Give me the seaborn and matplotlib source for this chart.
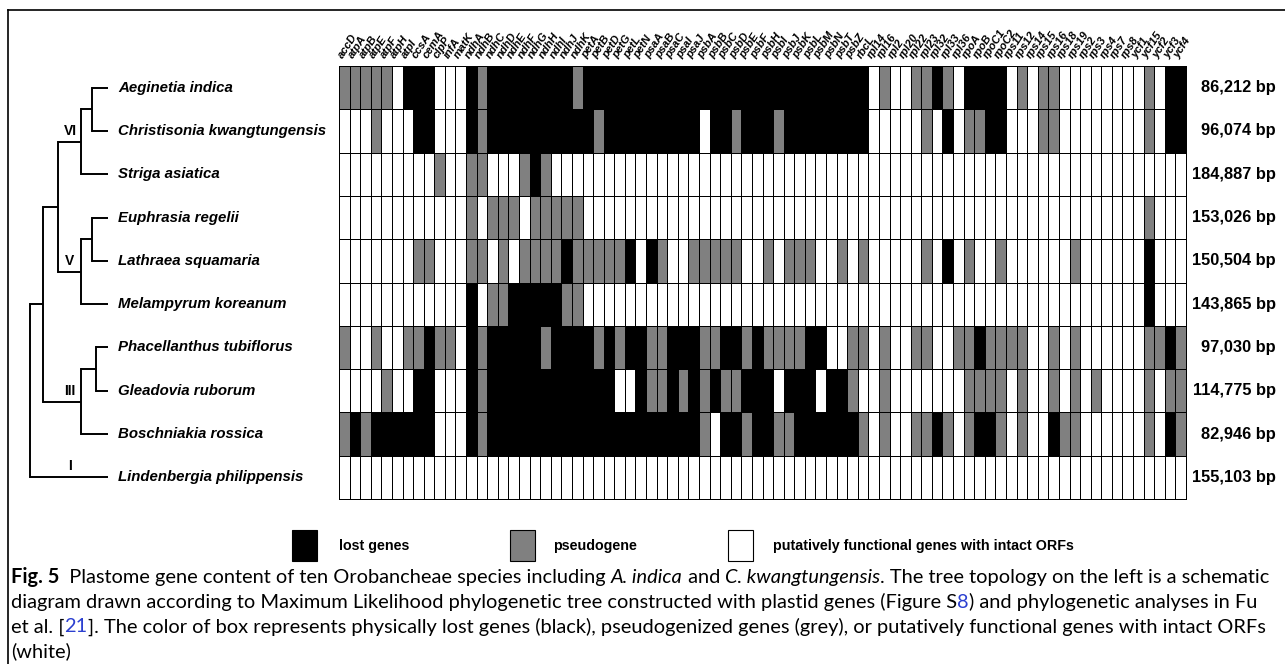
import matplotlib
matplotlib.use("Agg")
import pandas as pd
import matplotlib.pyplot as plt
import seaborn as sns
from matplotlib.colors import ListedColormap
from matplotlib.patches import Rectangle
from matplotlib.lines import Line2D

genes = ["accD", "atpA", "atpB", "atpE", "atpF", "atpH", "atpI", "ccsA", "cemA", "clpP",
         "infA", "matK", "ndhA", "ndhB", "ndhC", "ndhD", "ndhE", "ndhF", "ndhG", "ndhH",
         "ndhI", "ndhJ", "ndhK", "petA", "petB", "petD", "petG", "petL", "petN", "psaA",
         "psaB", "psaC", "psaI", "psaJ", "psbA", "psbB", "psbC", "psbD", "psbE", "psbF",
         "psbH", "psbI", "psbJ", "psbK", "psbL", "psbM", "psbN", "psbT", "psbZ", "rbcL",
         "rpl14", "rpl16", "rpl2", "rpl20", "rpl22", "rpl23", "rpl32", "rpl33", "rpl36", "rpoA",
         "rpoB", "rpoC1", "rpoC2", "rps11", "rps12", "rps14", "rps15", "rps16", "rps18", "rps19",
         "rps2", "rps3", "rps4", "rps7", "rps8", "ycf1", "ycf15", "ycf2", "ycf3", "ycf4"]

species = ["Aeginetia indica", "Christisonia kwangtungensis", "Striga asiatica",
           "Euphrasia regelii", "Lathraea squamaria", "Melampyrum koreanum",
           "Phacellanthus tubiflorus", "Gleadovia ruborum", "Boschniakia rossica",
           "Lindenbergia philippensis"]

genome_size = ["86,212 bp", "96,074 bp", "184,887 bp", "153,026 bp", "150,504 bp",
               "143,865 bp", "97,030 bp", "114,775 bp", "82,946 bp", "155,103 bp"]

# W = intact ORF, G = pseudogene, B = lost (one string per species, gene order as above)
gene_status = [
    "GGGGGWBBBW" "WWBGBBBBBB" "BBGBBBBBBB" "BBBBBBBBBB" "BBBBBBBBBB" "WGWWGGBGWB" "BBBWGWGGWW" "WWWWWWGWBB",
    "WWWGWWWBBW" "WWBGBBBBBB" "BBBBGBBBBB" "BBBBWBBGBB" "BGBBBBBBBB" "WWWWWGWBWG" "GBBWWWGGWW" "WWWWWWGWBB",
    "WWWWWWWWWG" "WWGGWWWGBG" "WWWWWWWWWW" "WWWWWWWWWW" "WWWWWWWWWW" "WWWWWWWWWW" "WWWWWWWWWW" "WWWWWWWWWW",
    "WWWWWWWWWW" "WWGWGGGWGG" "GGGWWWWWWW" "WWWWWWWWWW" "WWWWWWWWWW" "WWWWWWWWWW" "WWWWWWWWWW" "WWWWWWGWWW",
    "WWWWWWWGGW" "WWGGWGWGGG" "GBGGGGGBWB" "GWWGGGGGWW" "GWGGGWWGWG" "WWWWWGWBWG" "WWGWWWWWWG" "WWWWWWBWWW",
    "WWWWWWWWWW" "WWBWGGBBBB" "BGGWWWWWWW" "WWWWWWWWWW" "WWWWWWWWWW" "WWWWWWWWWW" "WWWWWWWWWW" "WWWWWWBWWW",
    "GWWGWWGGBG" "GWBGBBBBBG" "BBBBGBGBBG" "GBBBGGBBGB" "GGGGBBWWGG" "WGWWGGWWGG" "BGGGGWWGWG" "WWWWWWGGBG",
    "WWWWGWWBBW" "WWBGBBBBBB" "BBBBBBWWBG" "GBGBGBGGBB" "BWBBBWBBGW" "WGWWWWWWWG" "GGGWGWWGWG" "WGWWWWGWGG",
    "GBGBBBBBBW" "WWBGBBBBBB" "BBBBBBBBBB" "BBBBGWBBGB" "BGGBBBBBBG" "WGWWGGBGWG" "BBGWGWWBGG" "WWWWWWGWBG",
    "WWWWWWWWWW" "WWWWWWWWWW" "WWWWWWWWWW" "WWWWWWWWWW" "WWWWWWWWWW" "WWWWWWWWWW" "WWWWWWWWWW" "WWWWWWWWWW",
]

status_codes = {"W": 0, "G": 1, "B": 2}
status_colors = ["white", "#808080", "black"]
legend_labels = ["lost genes", "pseudogene", "putatively functional genes with intact ORFs"]

# tree: (node x, children, clade label); ints are leaf rows
tree = (30, [(43, [(58, [(81, [(92, [0, 1], None), 2], "VI"),
                         (81, [(92, [3, 4], None), 5], "V")], None),
                   (81, [(96, [6, 7], None), 8], "III")], None),
             9], None)
leaf_labels = {9: "I"}

df = pd.DataFrame([[status_codes[c] for c in row] for row in gene_status],
                  index=species, columns=genes)

W, H = 1285, 664
fig = plt.figure(figsize=(W / 100, H / 100), dpi=100)
cv = fig.add_axes([0, 0, 1, 1])
cv.set_xlim(0, W)
cv.set_ylim(H, 0)
cv.axis("off")

hm_l, hm_r, hm_t, hm_b = 339, 1186, 66, 499
ax = fig.add_axes([hm_l / W, 1 - hm_b / H, (hm_r - hm_l) / W, (hm_b - hm_t) / H])
sns.heatmap(df, ax=ax, cmap=ListedColormap(status_colors), vmin=-0.5, vmax=2.5,
            cbar=False, linewidths=0.55, linecolor="black",
            xticklabels=True, yticklabels=False)
ax.collections[0].set_clip_on(False)
ax.xaxis.tick_top()
ax.tick_params(axis="x", length=0, pad=4)
ax.set_xlabel("")
ax.set_ylabel("")
for lab in ax.get_xticklabels():
    lab.set(rotation=57, ha="left", va="bottom", rotation_mode="anchor",
            fontsize=8, fontweight="bold", fontstyle="italic", family="Liberation Sans")

row_h = (hm_b - hm_t) / len(species)


def row_y(i):
    return hm_t + (i + 0.5) * row_h


tip_x = 108
lw = 1.4


def draw(node):
    x, kids, _ = node
    ys = []
    for k in kids:
        if isinstance(k, int):
            cx, y = tip_x, row_y(k)
            lab = leaf_labels.get(k)
        else:
            cx, y = k[0], draw(k)
            lab = k[2]
        cv.plot([x, cx], [y, y], color="black", lw=lw, solid_capstyle="butt")
        if lab:
            cv.text(70, y - 4, lab, ha="center", va="bottom", fontsize=10,
                    fontweight="bold", family="Liberation Sans")
        ys.append(y)
    cv.plot([x, x], [min(ys), max(ys)], color="black", lw=lw, solid_capstyle="projecting")
    return (ys[0] + ys[-1]) / 2


draw(tree)

for i, name in enumerate(species):
    cv.text(118, row_y(i), name, va="center", ha="left", fontsize=10.8,
            fontweight="bold", fontstyle="italic", family="Liberation Sans")
    cv.text(1276, row_y(i), genome_size[i], va="center", ha="right", fontsize=11.8,
            fontweight="bold", family="Liberation Sans")

# legend
for (sx, tx), col, lab in zip([(292, 339), (510, 553), (728, 773)],
                              status_colors[::-1], legend_labels):
    cv.add_patch(Rectangle((sx, 530), 25, 31, facecolor=col, edgecolor="black", lw=0.8))
    cv.text(tx, 546, lab, va="center", ha="left", fontsize=10.3, fontweight="bold",
            family="Liberation Sans")

# frame
fig.add_artist(Line2D([8 / W, 1], [1 - 10 / H] * 2, color="black", lw=1.2))
fig.add_artist(Line2D([8 / W] * 2, [1 - 10 / H, 0], color="black", lw=1.2))

# caption
cap_font = "Lato"
blue = "#2b3fd0"
caption = [
    [("Fig. 5", "bold", "black"),
     ("  Plastome gene content of ten Orobancheae species including ", "normal", "black"),
     ("A. indica", "italic", "black"), (" and ", "normal", "black"),
     ("C. kwangtungensis", "italic", "black"),
     (". The tree topology on the left is a schematic", "normal", "black")],
    [("diagram drawn according to Maximum Likelihood phylogenetic tree constructed with plastid genes (Figure S", "normal", "black"),
     ("8", "normal", blue), (") and phylogenetic analyses in Fu", "normal", "black")],
    [("et al. [", "normal", "black"), ("21", "normal", blue),
     ("]. The color of box represents physically lost genes (black), pseudogenized genes (grey), or putatively functional genes with intact ORFs", "normal", "black")],
    [("(white)", "normal", "black")],
]

renderer = fig.canvas.get_renderer()


def run_width(txt, style, size):
    kw = dict(fontsize=size, family=cap_font,
              fontweight="bold" if style == "bold" else "normal",
              fontstyle="italic" if style == "italic" else "normal")
    a = cv.text(0, 0, "|" + txt + "|", **kw)
    b = cv.text(0, 0, "||", **kw)
    w = a.get_window_extent(renderer).width - b.get_window_extent(renderer).width
    a.remove()
    b.remove()
    return w, kw


base = 12
w1 = sum(run_width(t, s, base)[0] for t, s, _ in caption[0])
cap_size = base * 1254 / w1

for li, line in enumerate(caption):
    x = 11
    y = 583 + li * 24.7
    for txt, style, col in line:
        w, kw = run_width(txt, style, cap_size)
        cv.text(x, y, txt, va="baseline", ha="left", color=col, **kw)
        x += w

fig.savefig("out.png", dpi=100)
